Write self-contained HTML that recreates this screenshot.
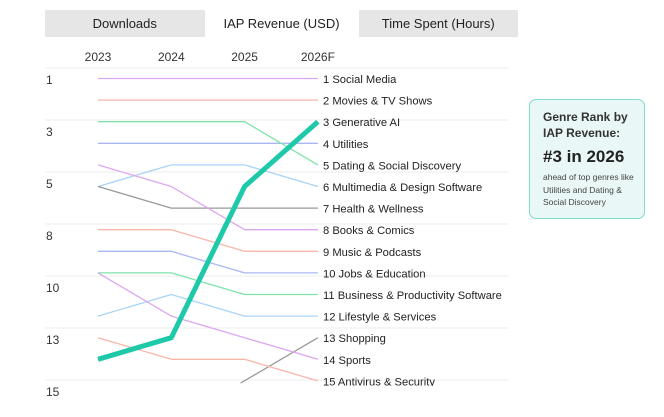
<!DOCTYPE html>
<html><head><meta charset="utf-8">
<style>
body{margin:0;width:664px;height:417px;background:#fff;font-family:"Liberation Sans",sans-serif;overflow:hidden;position:relative}
.tabs{position:absolute;left:45px;top:10px;width:473px;height:27px;background:#e6e6e6;display:flex}
.tab{flex:1;text-align:center;line-height:27px;font-size:13px;color:#222}
.tab.active{background:#fff}
.card{position:absolute;left:529px;top:99px;width:116px;height:120px;border:1.5px solid #7fdccb;border-radius:7px;background:#e9f8f6;box-sizing:border-box;padding:9px 0 0 13px;color:#333}
.card .t{font-size:12px;font-weight:bold;line-height:16px;color:#333}
.card .n{font-size:17px;font-weight:bold;margin:6px 0 4px;color:#222}
.card .s{font-size:8.5px;line-height:12.5px;color:#444}
svg{position:absolute;left:0;top:0}
</style></head><body>
<div class="tabs">
<div class="tab">Downloads</div>
<div class="tab active" style="flex:0 0 154px">IAP Revenue (USD)</div>
<div class="tab">Time Spent (Hours)</div>
</div>
<svg id="chart" width="664" height="417"></svg>
<div class="card">
<div class="t">Genre Rank by<br>IAP Revenue:</div>
<div class="n">#3 in 2026</div>
<div class="s">ahead of top genres like Utilities and Dating &amp; Social Discovery</div>
</div>
<script>
const years=["2023","2024","2025","2026F"];
const yTicks=[1,3,5,8,10,13,15];
const names=["Social Media","Movies & TV Shows","Generative AI","Utilities","Dating & Social Discovery","Multimedia & Design Software","Health & Wellness","Books & Comics","Music & Podcasts","Jobs & Education","Business & Productivity Software","Lifestyle & Services","Shopping","Sports","Antivirus & Security"];
const r1=[1,1,1,1];
const r2=[2,2,2,2];
const r3=[14,13,6,3];
const r4=[4,4,4,4];
const r5=[3,3,3,5];
const r6=[6,5,5,6];
const r7=[6,7,7,7];
const r8=[5,6,8,8];
const r9=[8,8,9,9];
const r10=[9,9,10,10];
const r11=[10,10,11,11];
const r12=[12,11,12,12];
const r13=[null,null,15.1,13];
const r14=[10,12,13,14];
const r15=[13,14,14,15];
const ranks=[r1,r2,r3,r4,r5,r6,r7,r8,r9,r10,r11,r12,r13,r14,r15];
const colors=["#dca6f0","#f9b5a8","#1ec9a9","#a9b8f5","#7fe3ab","#a9d4f7","#999","#dca6f0","#f9b5a8","#a9b8f5","#7fe3ab","#a9d4f7","#999","#dca6f0","#f9b5a8"];
const NS="http://www.w3.org/2000/svg";
const svg=document.getElementById('chart');
const x=i=>98+i*73.3;
const y=r=>78.5+(r-1)*21.6;
function mk(t,a){const e=document.createElementNS(NS,t);for(const k in a)e.setAttribute(k,a[k]);svg.appendChild(e);return e;}
for(let k=0;k<7;k++){
 const g=mk('line',{x1:45,x2:508,y1:68+52*k,y2:68+52*k,stroke:'#eee','stroke-width':1});
 
 
}
yTicks.forEach((t,k)=>{
 const e=mk('text',{x:46,y:84+52*k,'font-size':12,fill:'#333'});e.textContent=t;
 
 
});
years.forEach((t,i)=>{
 const e=mk('text',{x:x(i),y:61,'font-size':12,fill:'#333','text-anchor':'middle'});e.textContent=t;
 
 
});
const clip=mk('clipPath',{id:'c'});const cr=document.createElementNS(NS,'rect');cr.setAttribute('x',0);cr.setAttribute('y',60);cr.setAttribute('width',664);cr.setAttribute('height',326);clip.appendChild(cr);
const order=[0,1,3,4,5,6,7,8,9,10,11,12,13,14,2];
order.forEach(s=>{
 const pts=[];ranks[s].forEach((r,i)=>{if(r!=null)pts.push(x(i)+','+y(r));});
 if(s===12)pts[0]=(x(2)-4)+','+y(ranks[s][2]);
 const p=mk('polyline',{points:pts.join(' '),fill:'none',stroke:colors[s],'stroke-width':s===2?5:1.3,'stroke-linejoin':'round','clip-path':'url(#c)'});
 
 
});
names.forEach((n,s)=>{
 const r=ranks[s][3];
 const e=mk('text',{x:323,y:y(r)+4.5,'font-size':11.2,fill:'#222','clip-path':'url(#c)'});e.textContent=(s+1)+' '+n;
 
 
});
</script>
</body></html>
